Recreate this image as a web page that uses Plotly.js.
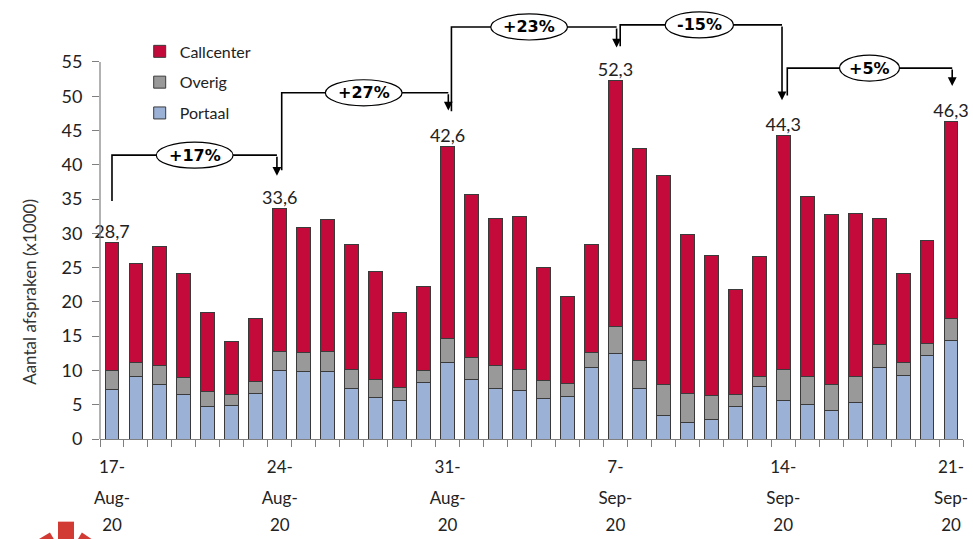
<!DOCTYPE html>
<html>
<head>
<meta charset="utf-8">
<script src="https://cdn.plot.ly/plotly-3.0.1.min.js"></script>
<style>html,body{margin:0;padding:0;background:#fff}#chart{width:973px;height:539px}</style>
</head>
<body>
<div id="chart"></div>
<script>
// ---- data (x1000 afspraken per dag) ----
const dates = ['17-Aug-20','18-Aug-20','19-Aug-20','20-Aug-20','21-Aug-20','22-Aug-20','23-Aug-20',
  '24-Aug-20','25-Aug-20','26-Aug-20','27-Aug-20','28-Aug-20','29-Aug-20','30-Aug-20',
  '31-Aug-20','1-Sep-20','2-Sep-20','3-Sep-20','4-Sep-20','5-Sep-20','6-Sep-20',
  '7-Sep-20','8-Sep-20','9-Sep-20','10-Sep-20','11-Sep-20','12-Sep-20','13-Sep-20',
  '14-Sep-20','15-Sep-20','16-Sep-20','17-Sep-20','18-Sep-20','19-Sep-20','20-Sep-20','21-Sep-20'];
const portaal = [7.25,9.1,8.0,6.5,4.8,4.9,6.7, 10.0,9.8,9.9,7.3,6.1,5.65,8.2,
  11.1,8.75,7.4,7.05,5.85,6.2,10.45, 12.4,7.4,3.4,2.4,2.8,4.8,7.65,
  5.65,5.05,4.1,5.35,10.45,9.3,12.2, 14.35];
const overig = [2.75,2.1,2.65,2.45,2.2,1.6,1.7, 2.8,2.85,2.9,2.8,2.65,1.85,1.8,
  3.5,3.15,3.35,3.15,2.7,1.85,2.1, 4.0,4.1,4.55,4.25,3.5,1.7,1.45,
  4.55,4.0,3.8,3.75,3.35,1.8,1.7, 3.3];
const callcenter = [18.7,14.4,17.45,15.25,11.5,7.65,9.2, 20.8,18.25,19.2,18.2,15.65,11.0,12.2,
  28.0,23.7,21.45,22.3,16.45,12.75,15.75, 35.9,30.9,30.55,23.25,20.5,15.3,17.5,
  34.1,26.25,24.9,23.8,18.3,13.1,15.0, 28.65];
const peakIdx = [0,7,14,21,28,35];           // Mondays, labelled
const changes = ['+17%','+27%','+23%','-15%','+5%'];

// ---- derived ----
const xi = dates.map((d,i)=>i);
const totals = xi.map(i=>portaal[i]+overig[i]+callcenter[i]);
const fmt = v => (Math.round(v*10)/10).toFixed(1).replace('.',',');

const C_CALL = '#C30A3B', C_OV = '#999999', C_POR = '#9BB1D6', EDGE = '#3a3a3a';
const FONT = 'Lato, "Open Sans", sans-serif';

const barCommon = {type:'bar', x:xi, width:0.58, hoverinfo:'skip'};
const traces = [
  Object.assign({}, barCommon, {name:'Portaal', y:portaal, legendgroup:'p', legendrank:3,
    marker:{color:C_POR, line:{color:EDGE, width:1}}}),
  Object.assign({}, barCommon, {name:'Overig', y:overig, legendgroup:'o', legendrank:2,
    marker:{color:C_OV, line:{color:EDGE, width:1}}}),
  Object.assign({}, barCommon, {name:'Callcenter', y:callcenter, legendgroup:'c', legendrank:1,
    marker:{color:C_CALL, line:{color:EDGE, width:1}}}),
  {type:'scatter', mode:'text', x:peakIdx, y:peakIdx.map(i=>totals[i]),
   text:peakIdx.map(i=>fmt(totals[i])), textposition:'top center',
   textfont:{family:FONT, size:18, color:'#222'}, showlegend:false, hoverinfo:'skip', cliponaxis:false}
];

// ---- bracket layout (positions in axis units) ----
const brackets = [
  {xl:0.0,   y0:34.7, yh:41.4, xr:6.88,  tip:38.4, cx:3.45, w:3.2},
  {xl:7.08,  y0:39.2, yh:50.5, xr:14.03, tip:47.9, cx:10.5, w:3.2},
  {xl:14.16, y0:47.8, yh:60.1, xr:21.05, tip:57.1, cx:17.4, w:3.2},
  {xl:21.2,  y0:57.3, yh:60.4, xr:27.95, tip:49.4, cx:24.5, w:2.85},
  {xl:28.17, y0:50.1, yh:54.1, xr:35.05, tip:51.5, cx:31.6, w:2.5}
];
const EH = 3.8;
const shapes = [];
const annotations = [];
brackets.forEach((b,k)=>{
  shapes.push({type:'path', xref:'x', yref:'y',
    path:`M${b.xl},${b.y0} L${b.xl},${b.yh} L${b.xr},${b.yh}`,
    line:{color:'#000', width:1.6}});
  shapes.push({type:'circle', xref:'x', yref:'y', x0:b.cx-b.w/2, x1:b.cx+b.w/2,
    y0:b.yh-EH/2, y1:b.yh+EH/2, fillcolor:'#fff', line:{color:'#000', width:1.2}, layer:'above'});
  annotations.push({xref:'x', yref:'y', x:b.xr, y:b.tip, ax:b.xr, ay:b.yh, axref:'x', ayref:'y',
    showarrow:true, arrowhead:2, arrowsize:1.1, arrowwidth:1.6, arrowcolor:'#000', text:''});
  annotations.push({xref:'x', yref:'y', x:b.cx, y:b.yh, text:'<b>'+changes[k]+'</b>', showarrow:false,
    font:{family:'"DejaVu Sans", Verdana, sans-serif', size:16, color:'#000'}});
});
// y axis line limited to 0..55
shapes.push({type:'line', xref:'paper', yref:'y', x0:0, x1:0, y0:0, y1:55, line:{color:'#7f7f7f', width:1.2}});
// red logo fragment (bottom-left)
shapes.push({type:'rect', xref:'paper', yref:'paper', x0:-0.0487, x1:-0.0301, y0:-0.235, y1:-0.19,
  fillcolor:'#D23A34', line:{width:0}});
shapes.push({type:'path', xref:'paper', yref:'paper', path:'M-0.075,-0.235 L-0.058,-0.215 L-0.052,-0.235 Z',
  fillcolor:'#D23A34', line:{width:0}});
shapes.push({type:'path', xref:'paper', yref:'paper', path:'M-0.027,-0.235 L-0.021,-0.215 L-0.006,-0.235 Z',
  fillcolor:'#D23A34', line:{width:0}});

annotations.push({xref:'paper', yref:'y', x:-0.082, y:21.5, xanchor:'center', yanchor:'middle',
  text:'Aantal afspraken (x1000)', textangle:-90,
  showarrow:false, font:{family:FONT, size:17, color:'#333'}});

const boundaries = xi.map(i=>i-0.5).concat([xi.length-0.5]);
const dayTxt = peakIdx.map(i=>dates[i].split('-')[0]+'-');
const monTxt = peakIdx.map(i=>dates[i].split('-')[1]+'-');
const yrTxt  = peakIdx.map(i=>dates[i].split('-')[2]);
const lblAxis = (txt, len) => ({overlaying:'x', anchor:'y', side:'bottom', range:[-0.5,35.5],
  tickmode:'array', tickvals:peakIdx, ticktext:txt, ticks:'outside', ticklen:len,
  tickcolor:'rgba(0,0,0,0)', showline:false, showgrid:false, zeroline:false,
  tickfont:{family:FONT, size:17, color:'#222'}, fixedrange:true});

const layout = {
  width:973, height:539,
  margin:{l:100, r:10, t:4, b:100},
  paper_bgcolor:'#fff', plot_bgcolor:'#fff',
  barmode:'stack', showlegend:true,
  legend:{x:0.046, y:0.93, xanchor:'left', yanchor:'top', traceorder:'grouped',
    tracegroupgap:7, font:{family:FONT, size:16, color:'#222'}, bgcolor:'rgba(0,0,0,0)'},
  xaxis:{range:[-0.5,35.5], tickmode:'array', tickvals:boundaries, ticks:'outside', ticklen:7,
    tickcolor:'#7f7f7f', showticklabels:false, showline:true, linecolor:'#7f7f7f', linewidth:1.2,
    showgrid:false, zeroline:false, fixedrange:true},
  xaxis2: lblAxis(dayTxt, 13),
  xaxis3: lblAxis(monTxt, 44),
  xaxis4: lblAxis(yrTxt, 71),
  yaxis:{range:[0,63.45], tickmode:'array', tickvals:[0,5,10,15,20,25,30,35,40,45,50,55],
    ticks:'outside', ticklen:7, tickcolor:'#7f7f7f', showline:false, showgrid:false, zeroline:false,
    tickfont:{family:FONT, size:18, color:'#222'}, ticklabelstandoff:6, fixedrange:true},
  shapes:shapes, annotations:annotations
};
// attach invisible traces so overlay label axes are drawn
['x2','x3','x4'].forEach(ax=>traces.push({type:'scatter', x:[0], y:[0], xaxis:ax, yaxis:'y',
  mode:'markers', marker:{opacity:0}, showlegend:false, hoverinfo:'skip'}));
Plotly.newPlot('chart', traces, layout, {displayModeBar:false, staticPlot:true});
</script>
</body>
</html>
